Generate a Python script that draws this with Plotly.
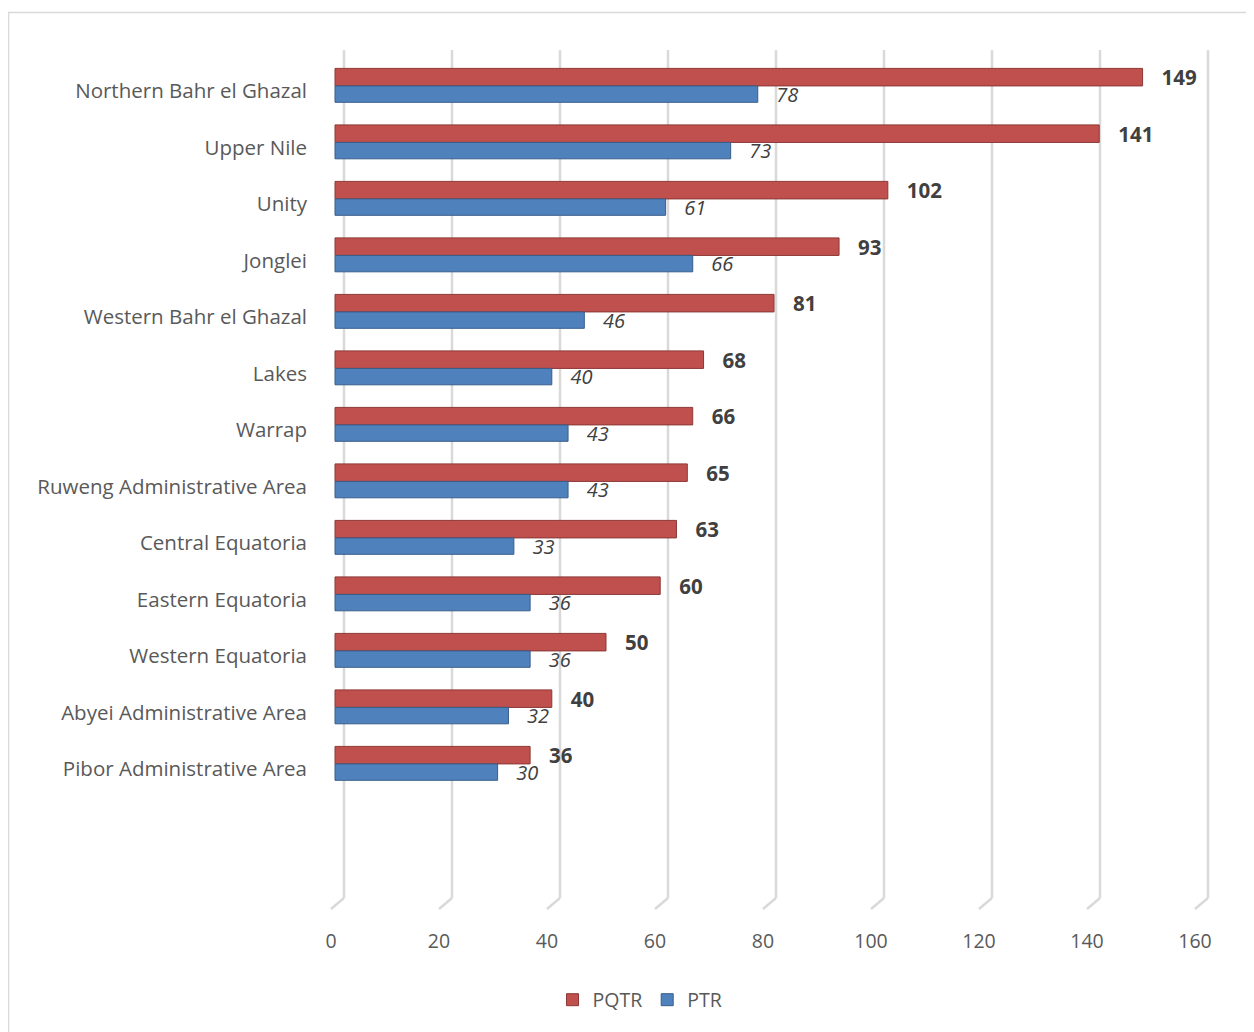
import plotly.graph_objects as go

categories = ["Northern Bahr el Ghazal", "Upper Nile", "Unity", "Jonglei",
              "Western Bahr el Ghazal", "Lakes", "Warrap",
              "Ruweng Administrative Area", "Central Equatoria",
              "Eastern Equatoria", "Western Equatoria",
              "Abyei Administrative Area", "Pibor Administrative Area"]
pqtr = [149, 141, 102, 93, 81, 68, 66, 65, 63, 60, 50, 40, 36]
ptr = [78, 73, 61, 66, 46, 40, 43, 43, 33, 36, 36, 32, 30]
tick_vals = [0, 20, 40, 60, 80, 100, 120, 140, 160]

# the page adds an 8px body margin; figure coordinates = page - 8
W, H = 1246, 1024
L, R = 312, 1206          # plot area pixel bounds (x)
T, B = 40, 890            # plot area pixel bounds (y)
PXU = 5.4                 # pixels per unit

ZERO_BAR = 327            # where 0 falls for the bars
ZERO_BACK = 336           # back-wall gridline position of 0
ZERO_FRONT = 323          # front (tick label) position of 0
BAR_PXU = 5.42


def rng(zero_px, pxu=PXU):
    return [(L - zero_px) / pxu, (R - zero_px) / pxu]


def py(px):  # figure pixel y -> paper y
    return (B - px) / (B - T)


def pxp(px):  # figure pixel x -> paper x
    return (px - L) / (R - L)


NB = "\u00a0"
FONT = "Open Sans"

fig = go.Figure()
fig.add_trace(go.Bar(
    y=categories, x=pqtr, name="PQTR", orientation="h",
    marker=dict(color="#C0504D", line=dict(color="#8C3836", width=1)),
    width=0.31, offset=-0.40,
    text=[f"{NB*3}{v}" for v in pqtr], textposition="outside",
    constraintext="none",
    textfont=dict(family=FONT, size=20.5, color="#404040", weight="bold"),
    cliponaxis=False, xaxis="x", yaxis="y",
))
fig.add_trace(go.Bar(
    y=categories, x=ptr, name="PTR", orientation="h",
    marker=dict(color="#4F81BD", line=dict(color="#385D8A", width=1)),
    width=0.29, offset=-0.09,
    text=[f"{NB*3}{v}" for v in ptr], textposition="outside",
    constraintext="none",
    textfont=dict(family=FONT, size=20, color="#404040", style="italic"),
    cliponaxis=False, xaxis="x", yaxis="y",
))

# y range: first category centre at pixel 83 (page 91), 56.5 px spacing
step = 56.5
first_c = 83
top_val = -(first_c - T) / step
bot_val = (B - first_c) / step

# gridlines on the back wall with a short diagonal to the floor front
shapes = []
dx = (ZERO_BACK - ZERO_FRONT) / PXU
for v in tick_vals:
    shapes.append(dict(type="line", xref="x2", yref="paper",
                       x0=v, x1=v, y0=py(890), y1=py(42),
                       line=dict(color="#D9D9D9", width=2.5), layer="below"))
    shapes.append(dict(type="line", xref="x2", yref="paper",
                       x0=v, x1=v - dx, y0=py(890), y1=py(901),
                       line=dict(color="#D9D9D9", width=2.5), layer="below"))
# chart-area border
shapes.append(dict(type="rect", xref="paper", yref="paper",
                   x0=pxp(0.5), x1=pxp(1260), y0=py(1040), y1=py(4.5),
                   line=dict(color="#D9D9D9", width=1.5), layer="below"))

fig.update_layout(
    width=W, height=H,
    margin=dict(l=L, r=W - R, t=T, b=H - B),
    paper_bgcolor="white", plot_bgcolor="white",
    barmode="group",
    font=dict(family=FONT, size=19, color="#595959"),
    xaxis=dict(range=rng(ZERO_BAR, BAR_PXU), showgrid=False, zeroline=False,
               showticklabels=False, showline=False),
    xaxis2=dict(range=rng(ZERO_BACK), overlaying="x", side="bottom",
                showgrid=False, showticklabels=False, zeroline=False,
                showline=False),
    xaxis3=dict(range=rng(ZERO_FRONT), overlaying="x", side="bottom",
                tickvals=tick_vals, showgrid=False, zeroline=False,
                showline=False, ticks="", ticklabelstandoff=29,
                tickfont=dict(family=FONT, size=19.5, color="#595959")),
    yaxis=dict(type="category", categoryarray=categories,
               range=[bot_val, top_val], showgrid=False, zeroline=False,
               showline=False, ticks="", ticklabelstandoff=12,
               tickfont=dict(family=FONT, size=20.5, color="#595959")),
    legend=dict(orientation="h", x=pxp(632), xanchor="center",
                y=py(992), yanchor="middle",
                font=dict(family=FONT, size=19.5, color="#595959"),
                itemwidth=30, traceorder="normal"),
    shapes=shapes,
)

# dummy traces so the extra axes get drawn
fig.add_trace(go.Scatter(x=[None], y=[None], xaxis="x2", yaxis="y",
                         showlegend=False, hoverinfo="skip"))
fig.add_trace(go.Scatter(x=[None], y=[None], xaxis="x3", yaxis="y",
                         showlegend=False, hoverinfo="skip"))

fig.write_html("out.html")
